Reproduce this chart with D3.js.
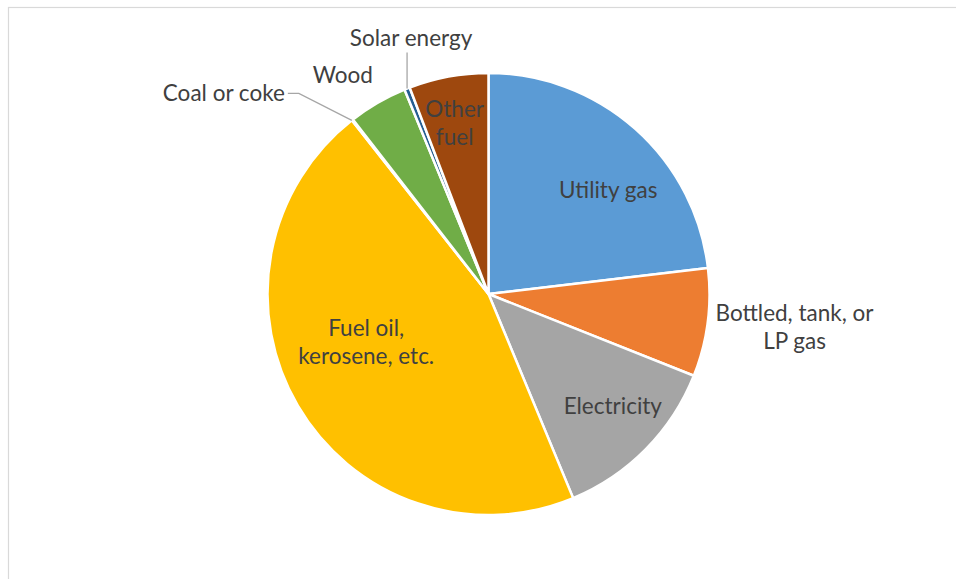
<!DOCTYPE html>
<html>
<head>
<meta charset="utf-8">
<script src="https://cdn.jsdelivr.net/npm/d3@7"></script>
<style>
  body { margin: 0; background: #fff; }
  svg { display: block; }
  text { font-family: Lato, "Open Sans", sans-serif; font-size: 22.5px; fill: #404040; }
</style>
</head>
<body>
<svg width="956" height="579"></svg>
<script>
var categories = ["Utility gas", "Bottled, tank, or LP gas", "Electricity", "Fuel oil, kerosene, etc.",
    "Coal or coke", "Wood", "Solar energy", "Other fuel"];
var shares = [23.1, 7.9, 12.7, 45.6, 0.1, 4.3, 0.4, 5.8];
var colors = ["#5B9BD5", "#ED7D31", "#A5A5A5", "#FFC000", "#4472C4", "#70AD47", "#255E91", "#9E480E"];
var labelLines = [["Utility gas"], ["Bottled, tank, or", "LP gas"], ["Electricity"], ["Fuel oil,", "kerosene, etc."],
    ["Coal or coke"], ["Wood"], ["Solar energy"], ["Other", "fuel"]];

var svg = d3.select("svg"),
    cx = 488.5, cy = 294, radius = 221, lineHeight = 28;

// chart frame (cut off at right and bottom)
svg.append("rect")
    .attr("x", 8.5).attr("y", 7.5)
    .attr("width", 1200).attr("height", 1200)
    .attr("fill", "none").attr("stroke", "#d9d9d9").attr("stroke-width", 1.2);

var data = categories.map(function(c, i) {
    return { name: c, value: shares[i], color: colors[i], lines: labelLines[i] };
});

var pie = d3.pie().sort(null).value(function(d) { return d.value; });
var arc = d3.arc().innerRadius(0).outerRadius(radius);
var arcs = pie(data);

var g = svg.append("g").attr("transform", "translate(" + cx + "," + cy + ")");

g.selectAll("path")
    .data(arcs)
    .enter().append("path")
        .attr("d", arc)
        .attr("fill", function(d) { return d.data.color; })
        .attr("stroke", "#fff")
        .attr("stroke-width", 2.5)
        .attr("stroke-linejoin", "round");

// label placement: inside labels nudge from centroid, outside labels from the rim
var labelLayout = {
    "Utility gas": { inside: true, dx: 14, dy: 15 },
    "Bottled, tank, or LP gas": { rim: 8, dx: 79, dy: 3, anchor: "middle" },
    "Electricity": { inside: true, dx: 11, dy: 0 },
    "Fuel oil, kerosene, etc.": { inside: true, dx: 15, dy: -32 },
    "Coal or coke": { rim: 0, at: "start", leader: [[-53, -27], [-64, -27]], dx: -67, dy: -27, anchor: "end" },
    "Wood": { rim: 8, dx: -31, dy: -21, anchor: "middle" },
    "Solar energy": { rim: 0, leader: [[0, -36]], dx: 4, dy: -50, anchor: "middle" },
    "Other fuel": { inside: true, dx: -5, dy: -14 }
};

var labelArc = d3.arc().innerRadius(radius * 0.72).outerRadius(radius * 0.72);

function rimPoint(d, extra, at) {
    var a = at === "start" ? d.startAngle : (d.startAngle + d.endAngle) / 2;
    var r = radius + extra;
    return [r * Math.sin(a), -r * Math.cos(a)];
}

arcs.forEach(function(d) {
    var L = labelLayout[d.data.name];
    var base, anchor = "middle";
    if (L.inside) {
        base = labelArc.centroid(d);
    } else {
        base = rimPoint(d, L.rim, L.at);
        anchor = L.anchor;
        if (L.leader) {
            var pts = [base].concat(L.leader.map(function(p) { return [base[0] + p[0], base[1] + p[1]]; }));
            g.append("path")
                .attr("d", d3.line()(pts))
                .attr("fill", "none")
                .attr("stroke", "#a6a6a6")
                .attr("stroke-width", 1.3);
        }
    }
    var x = base[0] + L.dx, y = base[1] + L.dy;
    var n = d.data.lines.length;
    var t = g.append("text")
        .attr("text-anchor", anchor)
        .attr("x", x);
    d.data.lines.forEach(function(line, i) {
        t.append("tspan")
            .attr("x", x)
            .attr("y", y + (i - (n - 1) / 2) * lineHeight)
            .attr("dy", "0.35em")
            .text(line);
    });
});
</script>
</body>
</html>
